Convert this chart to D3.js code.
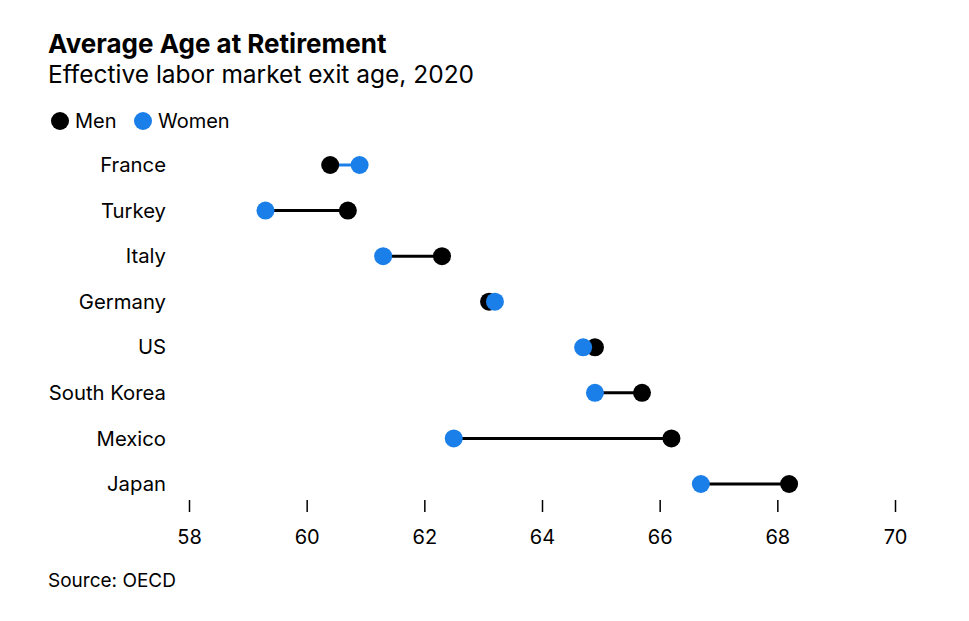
<!DOCTYPE html>
<html>
<head>
<meta charset="utf-8">
<script src="https://cdn.jsdelivr.net/npm/d3@7"></script>
<style>
  body { margin: 0; background: #fff; }
  text { font-family: "Inter", "Liberation Sans", sans-serif; fill: #000; }
</style>
</head>
<body>
<div id="chart"></div>
<script>
// data
var countries = ["France", "Turkey", "Italy", "Germany", "US", "South Korea", "Mexico", "Japan"];
var men   = [60.4, 60.7, 62.3, 63.1, 64.9, 65.7, 66.2, 68.2];
var women = [60.9, 59.3, 61.3, 63.2, 64.7, 64.9, 62.5, 66.7];
var ticks = [58, 60, 62, 64, 66, 68, 70];

var width = 969, height = 621;
var blue = "#1a7fe8";

var svg = d3.select("#chart").append("svg")
    .attr("width", width)
    .attr("height", height);

// titles
svg.append("text").attr("x", 48).attr("y", 53)
    .style("font-size", "26px").style("font-weight", "700")
    .text("Average Age at Retirement");
svg.append("text").attr("x", 48).attr("y", 83)
    .style("font-size", "24.5px")
    .text("Effective labor market exit age, 2020");

// legend
var legend = [{k: "Men", c: "#000", x: 60}, {k: "Women", c: blue, x: 143}];
var lg = svg.selectAll(".lg").data(legend).enter().append("g").attr("class", "lg");
lg.append("circle").attr("cx", d => d.x).attr("cy", 121).attr("r", 9).attr("fill", d => d.c);
lg.append("text").attr("x", d => d.x + 15).attr("y", 128)
    .style("font-size", "20px").text(d => d.k);

var x = d3.scaleLinear().domain([58, 70]).range([189, 895]);
var y = d3.scalePoint().domain(countries).range([165, 484]);

var rows = countries.map(function(c, i) { return {c: c, m: men[i], w: women[i]}; });

// country labels
svg.selectAll(".lab").data(rows).enter().append("text")
    .attr("x", 166).attr("y", d => y(d.c)).attr("dy", "0.35em")
    .attr("text-anchor", "end").style("font-size", "20.3px")
    .text(d => d.c);

// connectors
svg.selectAll(".conn").data(rows).enter().append("line")
    .attr("x1", d => x(d.m)).attr("x2", d => x(d.w))
    .attr("y1", d => y(d.c)).attr("y2", d => y(d.c))
    .attr("stroke", d => d.w > d.m ? blue : "#000")
    .attr("stroke-width", 3);

// dots
svg.selectAll(".men").data(rows).enter().append("circle")
    .attr("cx", d => x(d.m)).attr("cy", d => y(d.c)).attr("r", 9).attr("fill", "#000");
svg.selectAll(".women").data(rows).enter().append("circle")
    .attr("cx", d => x(d.w)).attr("cy", d => y(d.c)).attr("r", 9).attr("fill", blue);

// x axis
var axis = d3.axisBottom(x).tickValues(ticks).tickSize(12).tickPadding(18).tickFormat(d3.format("d"));
var ax = svg.append("g").attr("transform", "translate(0,500)").call(axis);
ax.select(".domain").remove();
ax.selectAll(".tick line").attr("stroke", "#000").attr("stroke-width", 1.5);
ax.selectAll(".tick text").style("font-size", "20px")
    .style("font-family", "Inter, 'Liberation Sans', sans-serif").attr("fill", "#000");

svg.append("text").attr("x", 48).attr("y", 587)
    .style("font-size", "19px").text("Source: OECD");
</script>
</body>
</html>
